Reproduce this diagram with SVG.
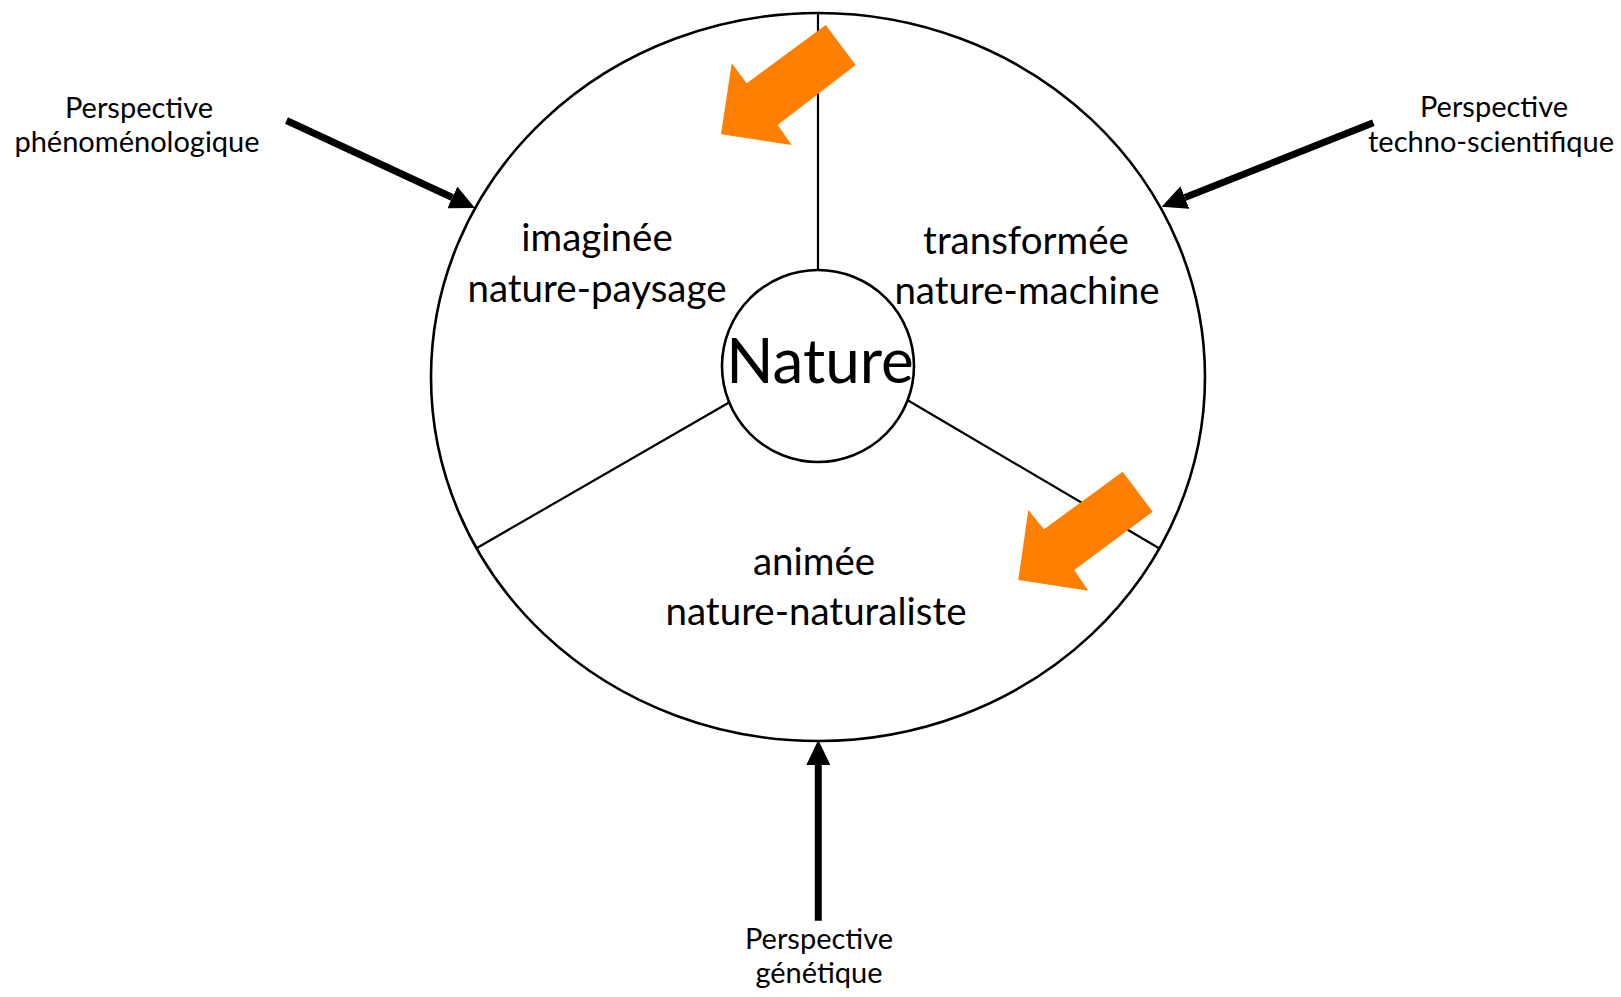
<svg xmlns="http://www.w3.org/2000/svg" width="1621" height="997" viewBox="0 0 1621 997">
  <style>
    .lbl { font-family: "Lato", "Open Sans", "Liberation Sans", sans-serif; fill: #000; text-anchor: middle; }
    .persp { font-size: 29px; }
    .inner { font-size: 38.5px; }
    .big { font-size: 62px; }
    .edge { fill: none; stroke: #000; }
    .orange { fill: #FF8000; stroke: none; }
    .conn { stroke: #000; stroke-width: 7; fill: none; }
  </style>
  <defs>
    <marker id="head" markerUnits="userSpaceOnUse" markerWidth="26" markerHeight="24" refX="0" refY="12" orient="auto">
      <path d="M0,0 L25,12 L0,24 z" fill="#000"/>
    </marker>
  </defs>
  <rect width="1621" height="997" fill="#fff"/>

  <g id="wheel">
    <ellipse cx="818" cy="377" rx="387" ry="364" class="edge" stroke-width="2.6"/>
    <line x1="818" y1="13" x2="818" y2="271" class="edge" stroke-width="2.2"/>
    <line x1="476" y1="548.5" x2="729.5" y2="402.3" class="edge" stroke-width="2.2"/>
    <line x1="907.3" y1="400" x2="1159.5" y2="548.5" class="edge" stroke-width="2.2"/>
  </g>

  <g id="nature">
    <circle cx="818" cy="366" r="96" fill="#fff" stroke="#000" stroke-width="2.6"/>
    <text class="lbl big" x="820" y="383">Nature</text>
  </g>

  <g id="imaginee">
    <text class="lbl inner" x="597" y="251">imaginée</text>
    <text class="lbl inner" x="597" y="302">nature-paysage</text>
  </g>
  <g id="transformee">
    <text class="lbl inner" x="1026" y="254">transformée</text>
    <text class="lbl inner" x="1027" y="304">nature-machine</text>
  </g>
  <g id="animee">
    <text class="lbl inner" x="814" y="575">animée</text>
    <text class="lbl inner" x="816" y="625">nature-naturaliste</text>
  </g>

  <g id="orange-arrows">
    <polygon class="orange" points="825.7,25 855.7,65 777.7,125 791.7,145 721,134.3 731.7,63.3 746.7,83.3"/>
    <polygon class="orange" points="1122.7,471.7 1152.7,511.7 1074.3,570 1088.3,590.7 1018.3,580 1028.3,510 1044,529.3"/>
  </g>

  <g id="persp-pheno">
    <text class="lbl persp" x="139" y="118">Perspective</text>
    <text class="lbl persp" x="137" y="152">phénoménologique</text>
  </g>
  <g id="persp-techno">
    <text class="lbl persp" x="1494" y="117">Perspective</text>
    <text class="lbl persp" x="1491" y="152">techno-scientifique</text>
  </g>
  <g id="persp-genetique">
    <text class="lbl persp" x="819" y="949">Perspective</text>
    <text class="lbl persp" x="819" y="983">génétique</text>
  </g>

  <g id="connectors">
    <line class="conn" x1="286.5" y1="120.5" x2="452.3" y2="197.5" marker-end="url(#head)"/>
    <line class="conn" x1="1373.3" y1="122.7" x2="1184.9" y2="197.5" marker-end="url(#head)"/>
    <line class="conn" x1="818.3" y1="920.7" x2="818.3" y2="765" marker-end="url(#head)"/>
  </g>
</svg>
